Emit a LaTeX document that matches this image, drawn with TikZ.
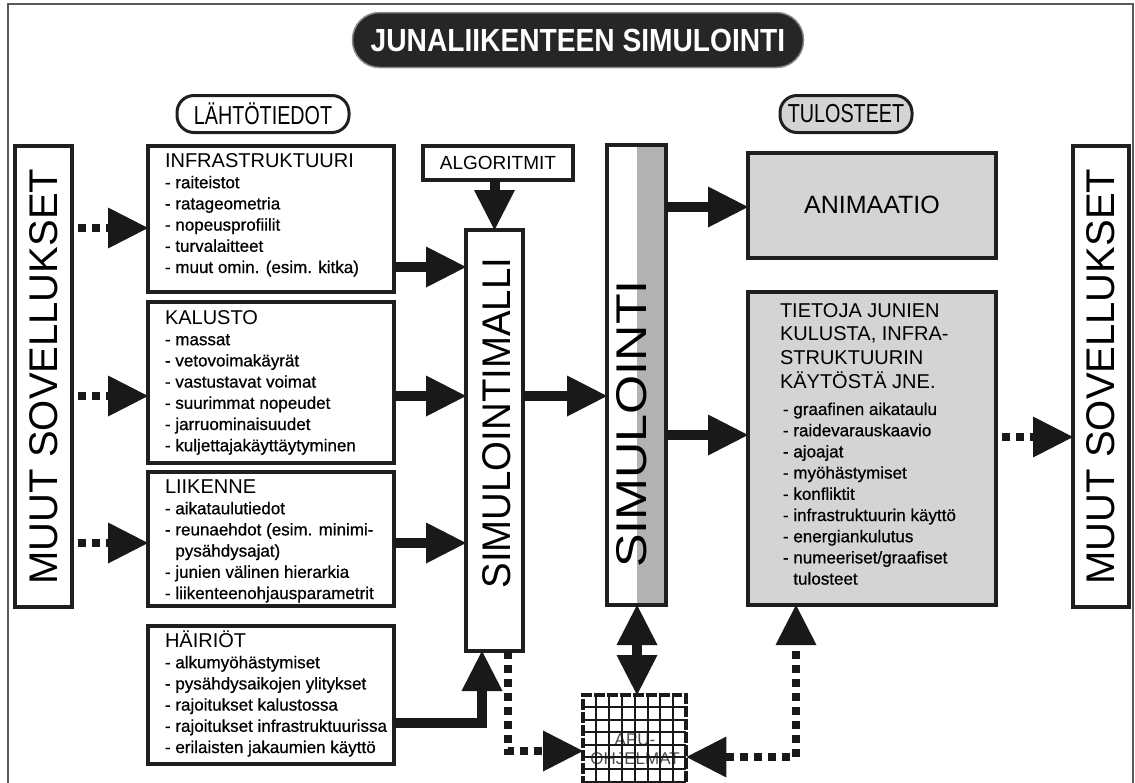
\documentclass[tikz,border=0pt]{standalone}
\usepackage{fontspec}
\setmainfont{Liberation Sans}
\newfontfamily\titlefont[FakeStretch=0.88]{Liberation Sans}
\newfontfamily\pillfont[FakeStretch=0.76]{Liberation Sans}
\newfontfamily\itemfont[FakeBold=0.7]{Liberation Sans}
\usetikzlibrary{arrows.meta}
\definecolor{boxgray}{HTML}{D4D4D4}
\definecolor{stripegray}{HTML}{B2B2B2}
\definecolor{pilldark}{HTML}{262626}
\tikzset{
  box/.style={draw=black!88, line width=3.5pt, inner sep=0pt, outer sep=0pt, anchor=north west},
  gbox/.style={box, fill=boxgray},
  txt/.style={inner sep=0pt, outer sep=0pt, anchor=north west, align=left,
              font=\itemfont\fontsize{17}{21.2}\selectfont},
  vtxt/.style={inner sep=0pt, rotate=90, font=\fontsize{40}{48}\selectfont},
  big/.style={line width=10pt, draw=black!90, ->},
  dots/.style={line width=8pt, draw=black!90, dash pattern=on 8pt off 6pt},
  dotarrow/.style={dots, ->},
  pill/.style={draw=black!88, line width=3pt, rounded corners=17pt, minimum height=37pt,
               inner sep=0pt, font=\pillfont\fontsize{26}{30}\selectfont},
}
\newcommand{\headfont}{\normalfont\fontsize{20}{21.2}\selectfont}
\begin{document}
\begin{tikzpicture}[x=1pt,y=-1pt,
  >={Triangle[length=40pt,width=41pt,line width=0pt]}]
\useasboundingbox (0,0) rectangle (1135,782);
\clip (0,0) rectangle (1135,782);

% outer frame
\draw[line width=1.5pt, black!65] (8,800) -- (8,4) -- (1133,4) -- (1133,800);

% title and section labels
\node[fill=pilldark, draw=black!45, line width=1.5pt, rounded corners=27pt,
      minimum width=451pt, minimum height=55pt, inner sep=0pt,
      text=white, font=\titlefont\bfseries\fontsize{32}{36}\selectfont]
      (title) at (578,40) {JUNALIIKENTEEN SIMULOINTI};
\node[pill, minimum width=172pt] (lahto) at (263,114) {LÄHTÖTIEDOT};
\node[pill, fill=boxgray, minimum width=132pt] (tulo) at (846,114) {TULOSTEET};

% side boxes
\node[box, minimum width=57pt, minimum height=461pt] (muutL) at (15,146) {};
\node[vtxt] (muutLt) at (muutL.center) {MUUT SOVELLUKSET};
\node[box, minimum width=56pt, minimum height=461pt] (muutR) at (1073,146) {};
\node[vtxt] (muutRt) at (muutR.center) {MUUT SOVELLUKSET};

% input boxes
\node[box, minimum width=246pt, minimum height=146pt] (infra) at (148,146) {};
\node[txt] (infrat) at (165,146) {\rule{0pt}{21pt}{\headfont INFRASTRUKTUURI}\\
- raiteistot\\- ratageometria\\- nopeusprofiilit\\- turvalaitteet\\- muut omin. (esim. kitka)};

\node[box, minimum width=246pt, minimum height=161pt] (kal) at (148,302) {};
\node[txt] (kalt) at (165,302) {\rule{0pt}{22pt}{\headfont KALUSTO}\\
- massat\\- vetovoimakäyrät\\- vastustavat voimat\\- suurimmat nopeudet\\- jarruominaisuudet\\- kuljettajakäyttäytyminen};

\node[box, minimum width=246pt, minimum height=134pt] (lii) at (148,472) {};
\node[txt] (liit) at (165,472) {\rule{0pt}{21pt}{\headfont LIIKENNE}\\
- aikataulutiedot\\- reunaehdot (esim. minimi-\\\phantom{- }pysähdysajat)\\- junien välinen hierarkia\\- liikenteenohjausparametrit};

\node[box, minimum width=246pt, minimum height=138pt] (hai) at (148,626) {};
\node[txt] (hait) at (165,626) {\rule{0pt}{21pt}{\headfont HÄIRIÖT}\\
- alkumyöhästymiset\\- pysähdysaikojen ylitykset\\- rajoitukset kalustossa\\- rajoitukset infrastruktuurissa\\- erilaisten jakaumien käyttö};

% algorithms and model
\node[box, minimum width=150pt, minimum height=34pt, font=\fontsize{19}{22}\selectfont] (algo) at (423,146) {ALGORITMIT};
\node[box, minimum width=57pt, minimum height=421pt] (simm) at (466,230) {};
\node[vtxt] (simmt) at (497,423) {\scalebox{0.96}[1]{SIMULOINTIMALLI}};

% simulation
\node[box, minimum width=59pt, minimum height=460pt,
      path picture={\fill[stripegray] ([xshift=-29pt]path picture bounding box.north east) rectangle (path picture bounding box.south east);}] (simul) at (607,145) {};
\node[vtxt, font=\fontsize{43}{50}\selectfont] (simult) at (632,424) {\scalebox{1.17}[1]{SIMULOINTI}};

% outputs
\node[gbox, minimum width=248pt, minimum height=105pt] (anim) at (748,153) {};
\node[inner sep=0pt, font=\fontsize{25}{30}\selectfont] (animt) at (872,205) {ANIMAATIO};
\node[gbox, minimum width=248pt, minimum height=313pt] (tiet) at (748,292) {};
\node[txt, font=\fontsize{20}{23.8}\selectfont] (tieth) at (780,292) {\rule{0pt}{25pt}TIETOJA JUNIEN\\KULUSTA, INFRA-\\STRUKTUURIN\\KÄYTÖSTÄ JNE.};
\node[txt] (tieti) at (783,402) {\rule{0pt}{13pt}- graafinen aikataulu\\- raidevarauskaavio\\- ajoajat\\- myöhästymiset\\- konfliktit\\- infrastruktuurin käyttö\\- energiankulutus\\- numeeriset/graafiset\\\phantom{- }tulosteet};

% helper programs (grid box)
\node[inner sep=0pt, minimum width=103pt, minimum height=112pt, anchor=north west] (apu) at (583,695) {};
\node[inner sep=0pt, align=center, text=black!70, font=\fontsize{17}{18.5}\selectfont] (aput) at (635,749) {APU-\\OHJELMAT};
\foreach \i in {1,...,7} \draw[line width=2pt, black!90] (583+\i*12.9,695) -- (583+\i*12.9,800);
\foreach \j in {1,...,8} \draw[line width=2pt, black!90] (583,695+\j*12.4) -- (686,695+\j*12.4);
\draw[line width=4pt, black!90, dash pattern=on 10.9pt off 2pt] (583,800) -- (583,695) -- (686,695) -- (686,800);

% connectors: external inputs
\draw[dotarrow, shorten <=6pt] (muutL.east |- 0,228) -- (infra.west |- 0,228);
\draw[dotarrow, shorten <=6pt] (muutL.east |- 0,396) -- (kal.west |- 0,396);
\draw[dotarrow, shorten <=6pt] (muutL.east |- 0,543) -- (lii.west |- 0,543);

% inputs to model
\draw[big] (infra.east |- 0,267) -- (simm.west |- 0,267);
\draw[big] (kal.east |- 0,396) -- (simm.west |- 0,396);
\draw[big] (lii.east |- 0,543) -- (simm.west |- 0,543);
\draw[big] (hai.east |- 0,723) -| (simm.south -| 482,0);
\draw[big] (simm.north |- algo.south) -- (simm.north);

% model to simulation, outputs
\draw[big] (simm.east |- 0,396) -- (simul.west |- 0,396);
\draw[big] (simul.east |- 0,207) -- (anim.west |- 0,207);
\draw[big] (simul.east |- 0,435) -- (tiet.west |- 0,435);
\draw[dotarrow, shorten <=6pt] (tiet.east |- 0,437) -- (muutR.west |- 0,437);

% helper program connections
\draw[big, <->] (simul.south -| 637,0) -- (apu.north -| 637,0);
\draw[dotarrow] (simm.south -| 508,0) |- (apu.west |- 0,751);
\draw[dots, <->] (apu.east |- 0,757) -| (tiet.south -| 796,0);
\end{tikzpicture}
\end{document}
